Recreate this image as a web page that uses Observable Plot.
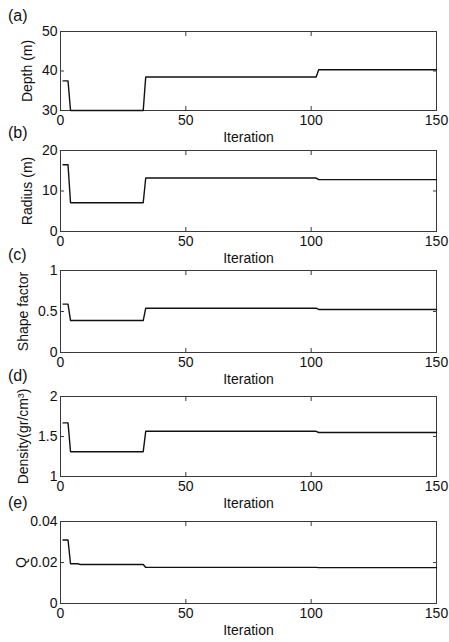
<!DOCTYPE html>
<html>
<head>
<meta charset="utf-8">
<script src="https://cdn.jsdelivr.net/npm/d3@7"></script>
<script src="https://cdn.jsdelivr.net/npm/@observablehq/plot@0.6"></script>
<style>
  html, body { margin: 0; padding: 0; background: #fff; }
  #fig { position: relative; width: 449px; height: 642px; font-family: "Liberation Sans", Arial, sans-serif; }
  .panel { position: absolute; left: 0; }
  .tag { position: absolute; font-size: 16px; color: #111; }
</style>
</head>
<body>
<div id="fig"></div>
<script>
// Inversion history: parameter estimates at the iterations where they change
const iterSteps = [1, 3, 4, 33, 34, 102, 103, 150];
const depth = [37.5, 37.5, 30, 30, 38.5, 38.5, 40.3, 40.3];
const radius = [16.5, 16.5, 7.1, 7.1, 13.2, 13.2, 12.8, 12.8];
const shapeFactor = [0.59, 0.59, 0.39, 0.39, 0.54, 0.54, 0.525, 0.525];
const density = [1.67, 1.67, 1.31, 1.31, 1.565, 1.565, 1.55, 1.55];

const iterQ = [1, 3, 4, 7, 8, 33, 34, 102, 103, 150];
const q = [0.031, 0.031, 0.0194, 0.0194, 0.019, 0.019, 0.0176, 0.0176, 0.0175, 0.0175];

const xTicks = [0, 50, 100, 150];
const panelTags = ["(a)", "(b)", "(c)", "(d)", "(e)"];
const yLabels = ["Depth (m)", "Radius (m)", "Shape factor", "Density(gr/cm\u00B3)", "Q"];
const yDomains = [[30, 50], [0, 20], [0, 1], [1, 2], [0, 0.04]];
const yTicks = [[30, 40, 50], [0, 10, 20], [0, 0.5, 1], [1, 1.5, 2], [0, 0.02, 0.04]];

const panels = [
  {x: iterSteps, y: depth, top: 31, h: 79, tagTop: 7, yOff: 38},
  {x: iterSteps, y: radius, top: 150, h: 81, tagTop: 124, yOff: 38},
  {x: iterSteps, y: shapeFactor, top: 270, h: 82, tagTop: 246, yOff: 42},
  {x: iterSteps, y: density, top: 396, h: 80, tagTop: 367, yOff: 42},
  {x: iterQ, y: q, top: 521, h: 82, tagTop: 494, yOff: 44}
];

const fig = document.getElementById("fig");
const mt = 12, mb = 40;
const frameColor = "#3a3a3a";
const fmt = d3.format("~g");

panels.forEach((p, i) => {
  const rows = p.x.map((it, j) => ({iteration: it, value: p.y[j]}));
  const chart = Plot.plot({
    width: 449,
    height: mt + p.h + mb,
    marginTop: mt,
    marginBottom: mb,
    marginLeft: 60,
    marginRight: 13,
    style: {fontFamily: "'Liberation Sans', Arial, sans-serif", fontSize: "14px", color: "#111", background: "transparent"},
    x: {domain: [0, 150]},
    y: {domain: yDomains[i]},
    marks: [
      // inward ticks on all four sides
      Plot.axisX({ticks: xTicks, anchor: "bottom", tickSize: -4, tickFormat: () => "", label: null, stroke: frameColor}),
      Plot.axisX({ticks: xTicks, anchor: "top", tickSize: -4, tickFormat: () => "", label: null, stroke: frameColor}),
      Plot.axisY({ticks: yTicks[i], anchor: "left", tickSize: -4, tickFormat: () => "", label: null, stroke: frameColor}),
      Plot.axisY({ticks: yTicks[i], anchor: "right", tickSize: -4, tickFormat: () => "", label: null, stroke: frameColor}),
      // tick labels and axis titles
      Plot.axisX({ticks: xTicks, anchor: "bottom", tickSize: 0, tickPadding: 5, tickFormat: fmt, label: "Iteration", labelAnchor: "center", labelArrow: "none", labelOffset: 31, fill: "#111"}),
      Plot.axisY({ticks: yTicks[i], anchor: "left", tickSize: 0, tickPadding: 3, tickFormat: fmt, label: yLabels[i], labelAnchor: "center", labelArrow: "none", labelOffset: p.yOff, fill: "#111"}),
      Plot.frame({stroke: frameColor, strokeWidth: 1}),
      Plot.line(rows, {x: "iteration", y: "value", stroke: "#111", strokeWidth: 1.4})
    ]
  });
  const wrap = document.createElement("div");
  wrap.className = "panel";
  wrap.style.top = (p.top - mt) + "px";
  wrap.appendChild(chart);
  fig.appendChild(wrap);

  const tag = document.createElement("div");
  tag.className = "tag";
  tag.style.left = "8px";
  tag.style.top = p.tagTop + "px";
  tag.textContent = panelTags[i];
  fig.appendChild(tag);
});
</script>
</body>
</html>
